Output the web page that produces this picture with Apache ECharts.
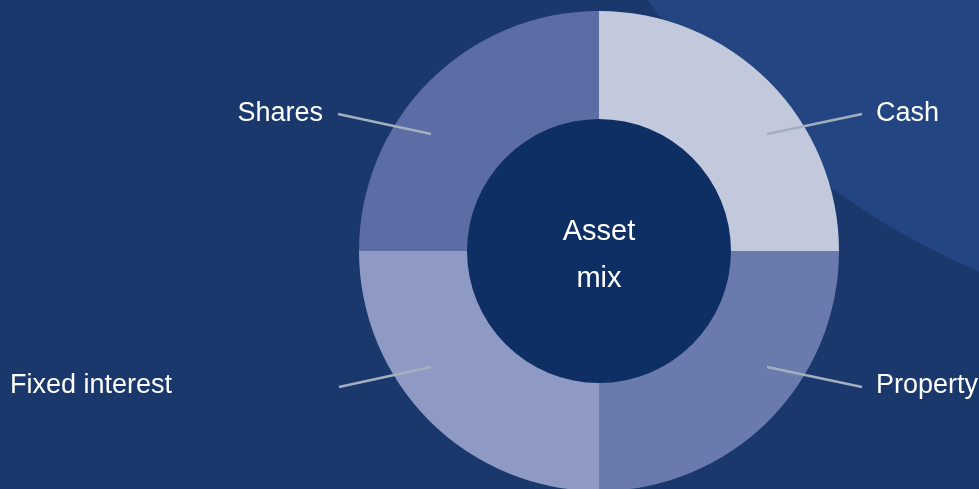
<!DOCTYPE html>
<html>
<head>
<meta charset="utf-8">
<script src="https://cdn.jsdelivr.net/npm/echarts@6/dist/echarts.min.js"></script>
<style>
  html, body { margin: 0; padding: 0; background: #1a386b; }
  #chart { width: 979px; height: 489px; }
</style>
</head>
<body>
<div id="chart"></div>
<script>
const categories = ['Cash', 'Property', 'Fixed interest', 'Shares'];
const values = [25, 25, 25, 25];
const sliceColors = ['#c3c9dd', '#6a7aad', '#8e9ac4', '#5c6da6'];
const centerWords = ['Asset', 'mix'];

// label placement (text anchor + line from/to), relative to pie centre
const labelSpots = [
  { x: 876, y: 114, align: 'left', from: [168, -117], to: [263, -137] },
  { x: 876, y: 386, align: 'left', from: [168, 116], to: [263, 136] },
  { x: 10, y: 386, align: 'left', from: [-168, 116], to: [-260, 136] },
  { x: 323, y: 114, align: 'right', from: [-168, -117], to: [-261, -137] }
];

const cx = 599, cy = 251;
const chart = echarts.init(document.getElementById('chart'));

const ringData = categories.map((c, i) => ({
  name: c,
  value: values[i],
  itemStyle: { color: sliceColors[i] }
}));

chart.setOption({
  backgroundColor: '#1a386b',
  animation: false,
  textStyle: { fontFamily: 'Liberation Sans, Arial, sans-serif' },
  graphic: [{
    type: 'circle',
    z: -10,
    silent: true,
    shape: { cx: 1285, cy: -438, r: 773 },
    style: { fill: '#234581' }
  }],
  series: [
    {
      type: 'pie',
      center: [cx, cy],
      radius: [0, 132],
      silent: true,
      z: 1,
      itemStyle: { color: '#0e2f63' },
      label: {
        position: 'center',
        formatter: '{s|}\n' + centerWords.map(w => '{t|' + w + '}').join('\n'),
        rich: {
          s: { height: 8, lineHeight: 8 },
          t: { color: '#ffffff', fontFamily: 'Liberation Sans', fontSize: 29, lineHeight: 47 }
        }
      },
      labelLine: { show: false },
      data: [{ name: 'center', value: 1 }]
    },
    {
      type: 'pie',
      center: [cx, cy],
      radius: [132, 240],
      startAngle: 90,
      silent: true,
      z: 2,
      label: { show: false },
      labelLine: { show: false },
      data: ringData
    },
    {
      // transparent copy of the ring that only carries the labels and guide lines
      type: 'pie',
      center: [cx, cy],
      radius: [132, 240],
      startAngle: 90,
      silent: true,
      z: 3,
      itemStyle: { color: 'rgba(0,0,0,0)' },
      data: categories.map((c, i) => ({ name: c, value: values[i] })),
      label: {
        show: true,
        position: 'outside',
        color: '#ffffff',
        fontFamily: 'Liberation Sans',
        fontSize: 27,
        formatter: '{b}'
      },
      labelLine: {
        show: true,
        lineStyle: { color: '#a3afbf', width: 2.5 }
      },
      labelLayout: function (params) {
        const s = labelSpots[params.dataIndex];
        const a = [cx + s.from[0], cy + s.from[1]];
        const b = [cx + s.to[0], cy + s.to[1]];
        return {
          x: s.x,
          y: s.y,
          align: s.align,
          verticalAlign: 'middle',
          labelLinePoints: [a, b, b]
        };
      }
    }
  ]
});
</script>
</body>
</html>
